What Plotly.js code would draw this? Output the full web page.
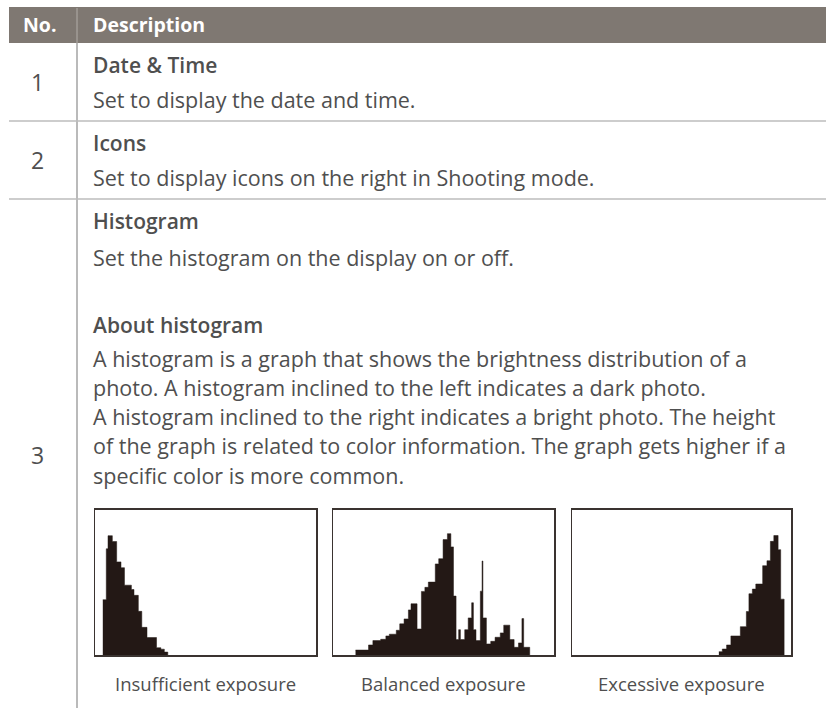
<!DOCTYPE html>
<html>
<head>
<meta charset="utf-8">
<script src="https://cdn.plot.ly/plotly-3.0.1.min.js"></script>
<style>
html,body{margin:0;padding:0;background:#fff;}
#chart{width:833px;height:710px;}
</style>
</head>
<body>
<div id="chart"></div>
<script>
// ---------- DATA ----------
const headerLabels = ["No.", "Description"];
const rowNumbers = ["1", "2", "3"];
const rowTitles = ["Date & Time", "Icons", "Histogram"];
const rowDescriptions = [
  "Set to display the date and time.",
  "Set to display icons on the right in Shooting mode.",
  "Set the histogram on the display on or off."
];
const aboutTitle = "About histogram";
const aboutLines = [
  "A histogram is a graph that shows the brightness distribution of a",
  "photo. A histogram inclined to the left indicates a dark photo.",
  "A histogram inclined to the right indicates a bright photo. The height",
  "of the graph is related to color information. The graph gets higher if a",
  "specific color is more common."
];
const histLabels = ["Insufficient exposure", "Balanced exposure", "Excessive exposure"];

// brightness bin edges (0-255) and bin heights (0-100)
const underEdges = [9, 13, 15, 20, 25, 30, 34, 42, 45, 50, 54, 60, 71, 76, 80, 84];
const underHeights = [38, 73, 82, 78, 64, 60, 48, 45, 41, 30, 19, 12, 5, 4, 2];

const balancedEdges = [26, 41, 46, 55, 61, 65, 73, 77, 82, 87, 90, 97, 102, 106, 110, 118, 122,
  127, 132, 136, 139, 142, 145, 147, 152, 156, 160, 162, 165, 170, 172, 173, 177, 182, 187,
  193, 197, 204, 209, 214, 218, 220, 227];
const balancedHeights = [3.4, 6.9, 9.9, 10.8, 13.1, 14.3, 17, 21.4, 24.8, 31, 35.2, 17.9, 43.7,
  46.5, 50.1, 62.6, 66.2, 79.3, 83.4, 74.3, 40.5, 10.6, 17.4, 10.6, 17.4, 25.5, 35.9, 17.4, 9.9,
  43.9, 64.6, 25.5, 7.6, 9.4, 12.2, 15.2, 20.5, 10.6, 5.3, 8.3, 25, 5.3];

const overEdges = [171, 175, 180, 185, 196, 203, 206, 210, 214, 222, 227, 231, 235, 240, 243, 247];
const overHeights = [2.3, 4.1, 6.9, 13.1, 19.5, 29.9, 42.1, 45.3, 48.8, 61.4, 64.8, 78.1, 82.1, 72.4, 38.4];

// ---------- LAYOUT ----------
const W = 833, H = 710;
const px = x => x / W;
const py = y => 1 - y / H;
const FONT = "Open Sans, Noto Sans, sans-serif";
const TXT = "#4f4f4f";

const annotations = [];
function txt(text, x, y, size, opts) {
  opts = opts || {};
  annotations.push({
    text: text,
    x: px(x), y: py(y), xref: "paper", yref: "paper",
    xanchor: opts.anchor || "left", yanchor: "middle",
    showarrow: false,
    font: {family: FONT, size: size, color: opts.color || TXT, weight: opts.weight || 400}
  });
}

// header
txt(headerLabels[0], 40, 25, 19.5, {weight: 700, color: "#ffffff", anchor: "center"});
txt(headerLabels[1], 91, 25, 19.5, {weight: 700, color: "#ffffff"});

const titleY = [65, 143, 221];
const descY = [99, 177, 257];
const numY = [82, 160, 455];
for (let i = 0; i < 3; i++) {
  txt(rowNumbers[i], 37, numY[i], 23, {anchor: "center"});
  txt(rowTitles[i], 91, titleY[i], 21, {weight: 600});
  txt(rowDescriptions[i], 91, descY[i], 21.5);
}
txt(aboutTitle, 91, 325, 21, {weight: 600});
const aboutY0 = 358, lead = 29.3;
aboutLines.forEach((l, i) => txt(l, 91, aboutY0 + i * lead, 21.5));

const boxX = [[95, 316], [333, 554], [572, 791]];
const boxY = [509.5, 655];
histLabels.forEach((l, i) => txt(l, (boxX[i][0] + boxX[i][1]) / 2, 683, 18.5, {anchor: "center"}));

const shapes = [
  {type: "rect", xref: "paper", yref: "paper", x0: px(9), x1: px(826), y0: py(43), y1: py(7),
   fillcolor: "#7f7872", line: {width: 0}, layer: "below"},
  {type: "line", xref: "paper", yref: "paper", x0: px(77), x1: px(77), y0: py(8), y1: py(43),
   line: {color: "#b3ada8", width: 1}},
  {type: "line", xref: "paper", yref: "paper", x0: px(77), x1: px(77), y0: py(43), y1: py(708),
   line: {color: "#a3a3a3", width: 1.5}},
  {type: "line", xref: "paper", yref: "paper", x0: px(9), x1: px(826), y0: py(121), y1: py(121),
   line: {color: "#bcbcbc", width: 1.5}},
  {type: "line", xref: "paper", yref: "paper", x0: px(9), x1: px(826), y0: py(199), y1: py(199),
   line: {color: "#bcbcbc", width: 1.5}}
];

function stepTrace(edges, heights, ax) {
  return {
    type: "scatter", mode: "lines",
    x: edges, y: heights.concat([0]),
    line: {shape: "hv", color: "#231815", width: 0.5},
    fill: "tozeroy", fillcolor: "#231815",
    xaxis: "x" + ax, yaxis: "y" + ax, hoverinfo: "skip", showlegend: false
  };
}

const data = [
  stepTrace(underEdges, underHeights, ""),
  stepTrace(balancedEdges, balancedHeights, "2"),
  stepTrace(overEdges, overHeights, "3")
];

function axisX(i) {
  return {domain: [px(boxX[i][0]), px(boxX[i][1])], range: [0, 255], showgrid: false, zeroline: false,
    showticklabels: false, ticks: "", showline: true, mirror: true, linecolor: "#3a3330", linewidth: 1.5,
    fixedrange: true};
}
function axisY(i) {
  return {domain: [py(boxY[1]), py(boxY[0])], range: [0, 100], showgrid: false, zeroline: false,
    showticklabels: false, ticks: "", showline: true, mirror: true, linecolor: "#3a3330", linewidth: 1.5,
    anchor: i === 0 ? "x" : "x" + (i + 1), fixedrange: true};
}

const layout = {
  width: W, height: H,
  margin: {l: 0, r: 0, t: 0, b: 0, pad: 0},
  paper_bgcolor: "#ffffff", plot_bgcolor: "#ffffff",
  showlegend: false,
  xaxis: Object.assign(axisX(0), {anchor: "y"}),
  yaxis: axisY(0),
  xaxis2: Object.assign(axisX(1), {anchor: "y2"}),
  yaxis2: axisY(1),
  xaxis3: Object.assign(axisX(2), {anchor: "y3"}),
  yaxis3: axisY(2),
  annotations: annotations,
  shapes: shapes
};

Plotly.newPlot("chart", data, layout, {displayModeBar: false, staticPlot: true});
</script>
</body>
</html>
